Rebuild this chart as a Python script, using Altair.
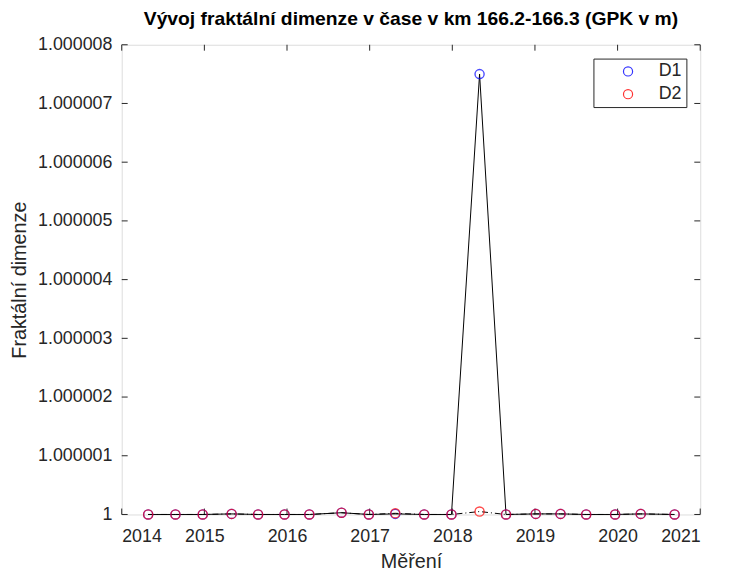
import altair as alt
import pandas as pd

# ---- data ----
dates = [2014.32, 2014.65, 2014.98, 2015.33, 2015.65, 2015.97, 2016.27, 2016.66,
         2016.99, 2017.31, 2017.66, 2017.99, 2018.33, 2018.65, 2019.01, 2019.31,
         2019.62, 2019.97, 2020.28, 2020.69]
d1 = [1.0, 1.0, 1.0, 1.00000001, 1.0, 1.0, 1.0, 1.00000003,
      1.0, 1.00000001, 1.0, 1.0, 1.0000075, 1.0, 1.00000001, 1.00000001,
      1.0, 1.0, 1.00000001, 1.0]
d2 = [1.0, 1.0, 1.0, 1.00000001, 1.0, 1.0, 1.0, 1.00000003,
      1.0, 1.00000002, 1.0, 1.0, 1.00000005, 1.0, 1.00000001, 1.00000001,
      1.0, 1.0, 1.00000001, 1.0]
series_names = ["D1", "D2"]
series_colors = ["#0000ff", "#ff0000"]
x_ticks = [2014, 2015, 2016, 2017, 2018, 2019, 2020, 2021]
y_ticks = [1.0, 1.000001, 1.000002, 1.000003, 1.000004, 1.000005, 1.000006,
           1.000007, 1.000008]

title_text = "Vývoj fraktální dimenze v čase v km 166.2-166.3 (GPK v m)"
x_title = "Měření"
y_title = "Fraktální dimenze"

W, H = 585, 475
FONT = "Liberation Sans"
AX = "#262626"
TICK = 6
TICKFS = 18
LABFS = 20

df = pd.DataFrame({
    "date": dates * 2,
    "value": d1 + d2,
    "series": ["D1"] * len(dates) + ["D2"] * len(dates),
})
xt = pd.DataFrame({"t": x_ticks})
yt = pd.DataFrame({"v": y_ticks})

xscale = alt.Scale(domain=[2014, 2021], nice=False, zero=False)
yscale = alt.Scale(domain=[1.0, 1.000008], nice=False, zero=False)

xaxis = alt.Axis(values=x_ticks, format="d", tickSize=0, domain=False, grid=False,
                 labelPadding=13, title=x_title, titlePadding=7,
                 labelFontSize=TICKFS, titleFontSize=LABFS, labelColor=AX, titleColor=AX,
                 labelFont=FONT, titleFont=FONT, titleFontWeight="normal")
yaxis = alt.Axis(values=y_ticks, tickSize=0, domain=False, grid=False,
                 labelExpr="abs(datum.value - 1) < 1e-12 ? '1' : format(datum.value, '.6f')",
                 labelPadding=10, title=y_title, titlePadding=8,
                 labelFontSize=TICKFS, titleFontSize=LABFS, labelColor=AX, titleColor=AX,
                 labelFont=FONT, titleFont=FONT, titleFontWeight="normal")

base = alt.Chart(df)

line1 = base.transform_filter(alt.datum.series == "D1").mark_line(
    color="black", strokeWidth=1).encode(
    x=alt.X("date:Q", scale=xscale, axis=xaxis),
    y=alt.Y("value:Q", scale=yscale, axis=yaxis),
)
line2 = base.transform_filter(alt.datum.series == "D2").mark_line(
    color="black", strokeWidth=1, strokeDash=[6, 3, 1, 3]).encode(
    x=alt.X("date:Q", scale=xscale),
    y=alt.Y("value:Q", scale=yscale),
)
points = base.mark_point(shape="circle", filled=False, size=85, strokeWidth=1.4,
                         opacity=0.7).encode(
    x=alt.X("date:Q", scale=xscale),
    y=alt.Y("value:Q", scale=yscale),
    color=alt.Color("series:N",
                    scale=alt.Scale(domain=series_names, range=series_colors),
                    legend=alt.Legend(title=None, orient="top-right", offset=14,
                                      padding=4, rowPadding=5, symbolOffset=22,
                                      labelOffset=22, labelFontSize=TICKFS,
                                      labelExpr="datum.label + ' '",
                                      labelFont=FONT, labelColor=AX,
                                      strokeColor=AX, fillColor="white",
                                      symbolStrokeWidth=1.2, symbolSize=85,
                                      symbolOpacity=0.8,
                                      symbolType="circle")),
)

xb = alt.Chart(xt).mark_rule(color=AX, strokeWidth=1).encode(
    x=alt.X("t:Q", scale=xscale), y=alt.value(H), y2=alt.value(H - TICK))
xtop = alt.Chart(xt).mark_rule(color=AX, strokeWidth=1).encode(
    x=alt.X("t:Q", scale=xscale), y=alt.value(0), y2=alt.value(TICK))
yl = alt.Chart(yt).mark_rule(color=AX, strokeWidth=1).encode(
    y=alt.Y("v:Q", scale=yscale), x=alt.value(0), x2=alt.value(TICK))
yr = alt.Chart(yt).mark_rule(color=AX, strokeWidth=1).encode(
    y=alt.Y("v:Q", scale=yscale), x=alt.value(W), x2=alt.value(W - TICK))

chart = alt.layer(xb, xtop, yl, yr, line1, line2, points).properties(
    width=W, height=H,
    title=alt.TitleParams(title_text, fontSize=19.5, fontWeight="bold", font=FONT,
                          color="black", anchor="middle", offset=6),
    autosize=alt.AutoSizeParams(type="none"),
    padding={"left": 115, "top": 34, "right": 21, "bottom": 55},
).configure_view(stroke=AX, strokeWidth=1).configure(background="white")

chart.save("out.html", embed_options={"renderer": "svg", "actions": False})
